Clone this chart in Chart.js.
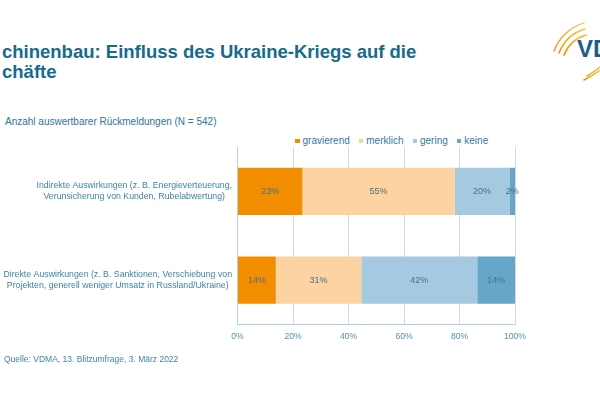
<!DOCTYPE html>
<html lang="de">
<head>
<meta charset="utf-8">
<title>Maschinenbau: Einfluss des Ukraine-Kriegs auf die Geschäfte</title>
<script src="https://cdn.jsdelivr.net/npm/chart.js@4.4.1/dist/chart.umd.min.js"></script>
<style>
  html, body { margin: 0; padding: 0; background: #fff; }
  body { width: 600px; height: 395px; position: relative; overflow: hidden;
         font-family: 'Liberation Sans', Arial, sans-serif; }
  #chart { position: absolute; left: 0; top: 0; }
  .title { position: absolute; left: 2px; top: 42px; font-size: 18.5px; line-height: 20px;
           font-weight: bold; color: #146b8e; white-space: nowrap; }
  .subtitle { position: absolute; left: 5px; top: 116px; font-size: 10px; line-height: 12px;
              color: #2b7599; white-space: nowrap; }
  .source { position: absolute; left: 4px; top: 354px; font-size: 8.5px; line-height: 10px;
            color: #3d86ab; white-space: nowrap; }
  #legend { position: absolute; left: 295px; top: 135px; display: flex; font-size: 10px;
            line-height: 12px; color: #2f7aa3; white-space: nowrap; }
  #legend .item { display: flex; align-items: center; margin-right: 9px; }
  #legend .box { width: 4.5px; height: 4.5px; margin-right: 3px; }
  #logo { position: absolute; left: 540px; top: 10px; }
</style>
</head>
<body>
<div class="title">chinenbau: Einfluss des Ukraine-Kriegs auf die<br>chäfte</div>
<div class="subtitle">Anzahl auswertbarer Rückmeldungen (N = 542)</div>
<div id="legend"></div>
<svg id="logo" width="60" height="80" viewBox="540 10 60 80">
  <defs>
    <linearGradient id="arcs" x1="0" y1="1" x2="1" y2="0">
      <stop offset="0" stop-color="#f39200"/>
      <stop offset="1" stop-color="#fbbf3a"/>
    </linearGradient>
  </defs>
  <g fill="none" stroke="url(#arcs)" stroke-linecap="round">
    <path d="M554 51 A46 46 0 0 1 584 23" stroke-width="1.3"/>
    <path d="M559 53 A40 40 0 0 1 585 29" stroke-width="1.5"/>
    <path d="M564 55 A34 34 0 0 1 586 35" stroke-width="1.7"/>
    <path d="M584 80 Q592 76 600 70" stroke-width="1.5"/>
    <path d="M587 76 Q594 72 600 67" stroke-width="1.3"/>
  </g>
  <text x="577" y="57" font-family="Liberation Sans, Arial, sans-serif" font-weight="bold"
        font-size="24" fill="#1a5f8c">VD</text>
</svg>
<canvas id="chart" width="600" height="395"></canvas>
<div class="source">Quelle: VDMA, 13. Blitzumfrage, 3. März 2022</div>

<script>
const categories = [
  ['Indirekte Auswirkungen (z. B. Energieverteuerung,', 'Verunsicherung von Kunden, Rubelabwertung)'],
  ['Direkte Auswirkungen (z. B. Sanktionen, Verschiebung von', 'Projekten, generell weniger Umsatz in Russland/Ukraine)'],
];
const seriesNames = ['gravierend', 'merklich', 'gering', 'keine'];
const gravierend = [23.4, 13.8];
const merklich = [54.9, 30.8];
const gering = [19.7, 41.8];
const keine = [2.0, 13.6];
const xTicks = [0, 20, 40, 60, 80, 100];

const seriesColors = ['#f28e00', '#fed3a2', '#a5c9e0', '#66a6c8'];
const fontFamily = "'Liberation Sans', Arial, sans-serif";

// Kategorien rechtsbündig als Block, Zeilen zentriert
const categoryLabels = {
  id: 'categoryLabels',
  afterDraw(chart) {
    const { ctx, scales: { y } } = chart;
    const right = y.right - 5.5;
    ctx.save();
    ctx.font = `8.75px ${fontFamily}`;
    ctx.fillStyle = '#3a84ab';
    ctx.textAlign = 'center';
    ctx.textBaseline = 'middle';
    categories.forEach((lines, i) => {
      const widest = Math.max(...lines.map(l => ctx.measureText(l).width));
      const cx = right - widest / 2;
      const cy = y.getPixelForValue(i);
      lines.forEach((line, j) => {
        ctx.fillText(line, cx, cy + (j - (lines.length - 1) / 2) * 11);
      });
    });
    ctx.restore();
  },
};

// Prozentwerte in den Balken
const valueLabels = {
  id: 'valueLabels',
  afterDatasetsDraw(chart) {
    const { ctx } = chart;
    ctx.save();
    ctx.font = `9px ${fontFamily}`;
    ctx.fillStyle = '#44718d';
    ctx.textAlign = 'center';
    ctx.textBaseline = 'middle';
    chart.data.datasets.forEach((ds, di) => {
      chart.getDatasetMeta(di).data.forEach((bar, i) => {
        const x = (bar.x + bar.base) / 2;
        ctx.fillText(`${Math.round(ds.data[i])}%`, x, bar.y);
      });
    });
    ctx.restore();
  },
};

const chart = new Chart(document.getElementById('chart'), {
  type: 'bar',
  data: {
    labels: categories,
    datasets: [gravierend, merklich, gering, keine].map((values, i) => ({
      label: seriesNames[i],
      data: values,
      backgroundColor: seriesColors[i],
      borderWidth: 0,
      categoryPercentage: 1,
      barPercentage: 0.53,
    })),
  },
  options: {
    indexAxis: 'y',
    responsive: false,
    animation: false,
    events: [],
    layout: { padding: { left: 0, right: 85, top: 147, bottom: 50.5 } },
    plugins: {
      legend: { display: false },
      tooltip: { enabled: false },
    },
    scales: {
      x: {
        stacked: true,
        min: 0,
        max: 100,
        afterBuildTicks: scale => { scale.ticks = xTicks.map(value => ({ value })); },
        afterFit: scale => { scale.height = 20; },
        ticks: {
          callback: v => `${v}%`,
          font: { family: fontFamily, size: 8.6 },
          color: '#5292b2',
          padding: 6.5,
          maxRotation: 0,
        },
        grid: {
          drawTicks: false,
          color: ctx => (ctx.tick && ctx.tick.value === 0 ? 'rgba(0,0,0,0)' : '#d9d9d9'),
          lineWidth: 1,
        },
        border: { color: '#b3cfe0', width: 1 },
      },
      y: {
        stacked: true,
        afterFit: scale => { scale.width = 237.5; },
        ticks: { display: false },
        grid: { display: false, drawTicks: false },
        border: { color: '#b3cfe0', width: 1 },
      },
    },
  },
  plugins: [categoryLabels, valueLabels],
});

// HTML-Legende aus den Datensätzen
document.getElementById('legend').innerHTML = chart.data.datasets
  .map(ds => `<div class="item"><span class="box" style="background:${ds.backgroundColor}"></span>${ds.label}</div>`)
  .join('');
</script>
</body>
</html>
